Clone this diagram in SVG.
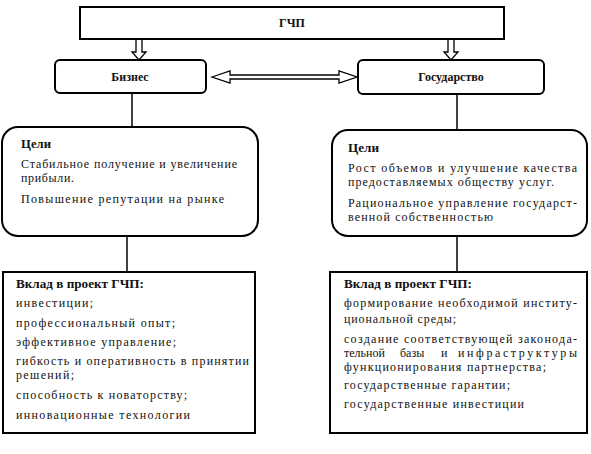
<svg xmlns="http://www.w3.org/2000/svg" width="591" height="454" viewBox="0 0 591 454" font-family="'Liberation Serif', 'Times New Roman', 'DejaVu Serif', serif">
<style>
.box{fill:#fff;stroke:#000;stroke-width:2}
.ln{fill:none;stroke:#000;stroke-width:1.5}
.arr{fill:#fff;stroke:#000;stroke-width:1.3;stroke-linejoin:miter}
text{font-family:'Liberation Serif','Times New Roman','DejaVu Serif',serif;font-size:12px;fill:#111}
.b{font-weight:bold;font-size:12.5px}
.t{font-size:12px;font-weight:bold}
</style>
<rect width="591" height="454" fill="#fff"/>
<g id="connectors">
<path class="arr" d="M136,39 V52 H132 L139,60 L146,52 H142 V39 Z"/>
<path class="arr" d="M448,39 V52 H444 L451,60 L458,52 H454 V39 Z"/>
<path class="arr" d="M212,77 L230,71 V75 H339 V71 L357,77 L339,83 V79 H230 V83 Z"/>
<line class="ln" x1="132" y1="93" x2="132" y2="127"/>
<line class="ln" x1="127" y1="236" x2="127" y2="272"/>
<line class="ln" x1="457" y1="94" x2="457" y2="130"/>
<line class="ln" x1="457" y1="236" x2="457" y2="272"/>
</g>
<g id="gchp">
<rect class="box" x="80" y="7" width="424" height="32"/>
<text class="t" x="292" y="27" text-anchor="middle">ГЧП</text>
</g>
<g id="business">
<rect class="box" x="55" y="60" width="151" height="33" rx="5"/>
<text class="t" x="130" y="81" text-anchor="middle">Бизнес</text>
</g>
<g id="state">
<rect class="box" x="358" y="60" width="186" height="34" rx="5"/>
<text class="t" x="451" y="81" text-anchor="middle">Государство</text>
</g>
<g id="business-goals">
<rect class="box" x="2" y="127" width="256" height="109" rx="16"/>
<text class="b" x="21" y="148" textLength="30" lengthAdjust="spacingAndGlyphs">Цели</text>
<text x="21" y="168" textLength="216" lengthAdjust="spacing">Стабильное получение и увеличение</text>
<text x="21" y="182" textLength="53" lengthAdjust="spacing">прибыли.</text>
<text x="21" y="203" textLength="203" lengthAdjust="spacing">Повышение репутации на рынке</text>
</g>
<g id="state-goals">
<rect class="box" x="332" y="130" width="255" height="106" rx="16"/>
<text class="b" x="348" y="152" textLength="31" lengthAdjust="spacingAndGlyphs">Цели</text>
<text x="348" y="172" textLength="229" lengthAdjust="spacing">Рост объемов и улучшение качества</text>
<text x="348" y="186" textLength="206" lengthAdjust="spacing">предоставляемых обществу услуг.</text>
<text x="348" y="207" textLength="229" lengthAdjust="spacing">Рациональное управление государст-</text>
<text x="348" y="221" textLength="145" lengthAdjust="spacing">венной собственностью</text>
</g>
<g id="business-contribution">
<rect class="box" x="3" y="272" width="252" height="161"/>
<text class="b" x="16" y="288" textLength="128" lengthAdjust="spacingAndGlyphs">Вклад в проект ГЧП:</text>
<text x="16" y="307" textLength="77" lengthAdjust="spacing">инвестиции;</text>
<text x="16" y="327" textLength="159" lengthAdjust="spacing">профессиональный опыт;</text>
<text x="16" y="346" textLength="160" lengthAdjust="spacing">эффективное управление;</text>
<text x="16" y="365" textLength="233" lengthAdjust="spacing">гибкость и оперативность в принятии</text>
<text x="16" y="379" textLength="58" lengthAdjust="spacing">решений;</text>
<text x="16" y="399" textLength="171" lengthAdjust="spacing">способность к новаторству;</text>
<text x="16" y="419" textLength="174" lengthAdjust="spacing">инновационные технологии</text>
</g>
<g id="state-contribution">
<rect class="box" x="330" y="272" width="257" height="161"/>
<text class="b" x="344" y="288" textLength="128" lengthAdjust="spacingAndGlyphs">Вклад в проект ГЧП:</text>
<text x="344" y="307" textLength="233" lengthAdjust="spacing">формирование необходимой институ-</text>
<text x="344" y="323" textLength="112" lengthAdjust="spacing">циональной среды;</text>
<text x="344" y="343" textLength="233" lengthAdjust="spacing">создание соответствующей законода-</text>
<text y="357"><tspan x="344">тельной</tspan><tspan x="400">базы</tspan><tspan x="441">и</tspan><tspan x="458" textLength="119" lengthAdjust="spacing">инфраструктуры</tspan></text>
<text x="344" y="371" textLength="202" lengthAdjust="spacing">функционирования партнерства;</text>
<text x="344" y="389" textLength="166" lengthAdjust="spacing">государственные гарантии;</text>
<text x="344" y="408" textLength="180" lengthAdjust="spacing">государственные инвестиции</text>
</g>
</svg>
